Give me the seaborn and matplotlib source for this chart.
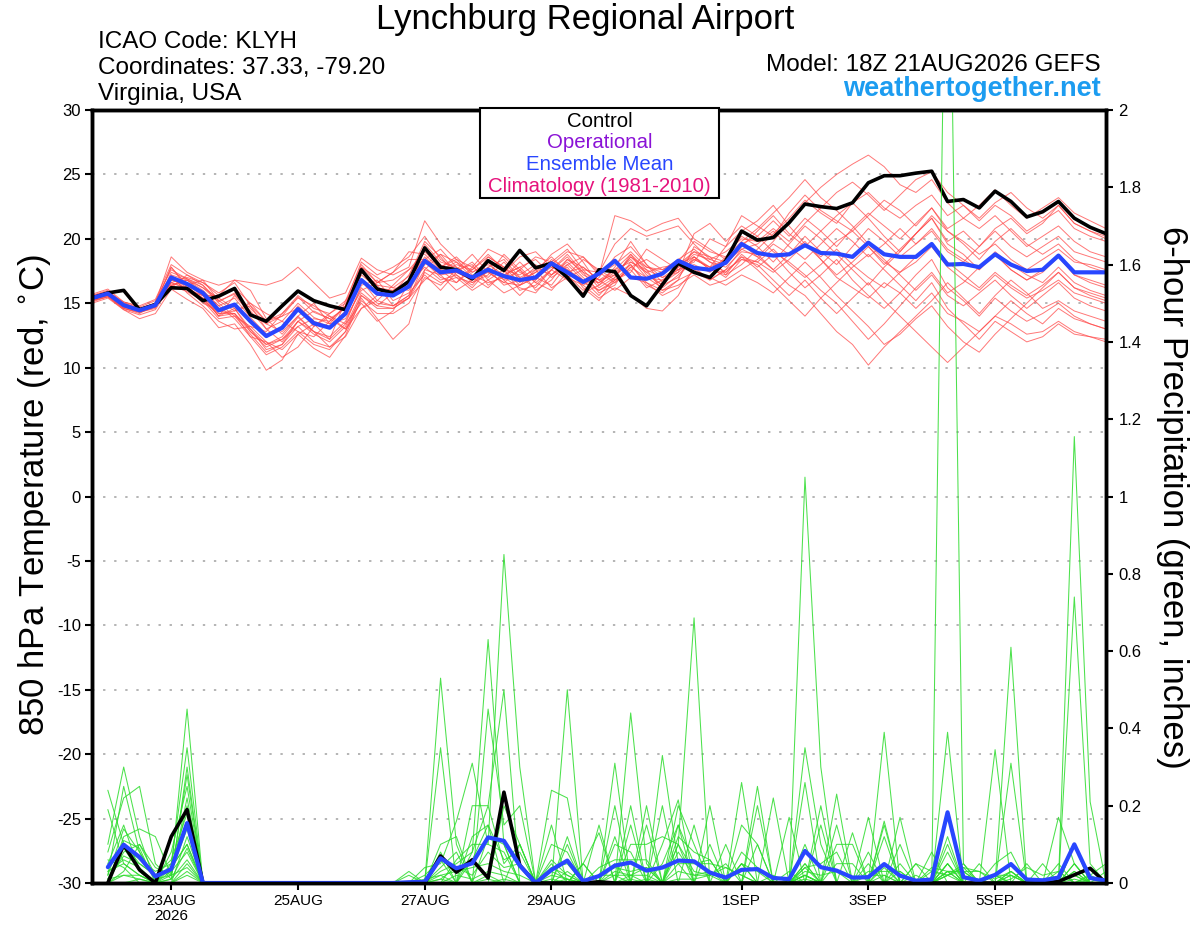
import matplotlib
matplotlib.use("Agg")
import numpy as np
import pandas as pd
import matplotlib.pyplot as plt
import seaborn as sns
from matplotlib.patches import Rectangle
from matplotlib.ticker import FuncFormatter, MultipleLocator

# ---------------- data ----------------
RUN_START = "2026-08-21 18:00"   # 18Z 21AUG2026 GEFS, 6-hourly
N_STEPS = 65                      # analysis + 64 six-hour steps
TICK_DATES = ["2026-08-23", "2026-08-25", "2026-08-27", "2026-08-29",
              "2026-09-01", "2026-09-03", "2026-09-05"]
TICK_LABELS = ["23AUG\n2026", "25AUG", "27AUG", "29AUG", "1SEP", "3SEP", "5SEP"]
TEMP_TICKS = [-30, -25, -20, -15, -10, -5, 0, 5, 10, 15, 20, 25, 30]

# 850 hPa temperature, control run (black)
CONTROL_T = [15.4, 15.8, 16.0, 14.5, 14.9, 16.2, 16.15, 15.2, 15.55, 16.15,
             14.1, 13.6, 14.8, 15.95, 15.2, 14.8, 14.5, 17.6, 16.1, 15.8,
             16.7, 19.3, 17.8, 17.6, 16.9, 18.3, 17.55, 19.1, 17.75, 18.1,
             17.0, 15.55, 17.6, 17.45, 15.6, 14.8, 16.45, 18.1, 17.4, 17.0,
             18.3, 20.6, 19.9, 20.1, 21.25, 22.7, 22.5, 22.35, 22.8, 24.35,
             24.9, 24.9, 25.1, 25.25, 22.9, 23.05, 22.4, 23.7, 22.9, 21.7,
             22.1, 22.9, 21.6, 20.9, 20.4]
# ensemble mean (blue)
MEAN_T = [15.4, 15.75, 14.85, 14.45, 14.85, 17.0, 16.5, 15.8, 14.45, 14.9,
          13.6, 12.45, 13.1, 14.55, 13.45, 13.1, 14.2, 16.8, 15.75, 15.6,
          16.3, 18.3, 17.4, 17.55, 17.0, 17.6, 17.1, 16.8, 17.0, 18.1,
          17.4, 16.65, 17.3, 18.3, 17.0, 16.9, 17.3, 18.3, 17.75, 17.6,
          18.15, 19.6, 18.9, 18.7, 18.8, 19.5, 18.9, 18.85, 18.6, 19.7,
          18.8, 18.6, 18.6, 19.6, 18.0, 18.05, 17.8, 18.8, 18.0, 17.5,
          17.6, 18.7, 17.4, 17.4, 17.4]

# ensemble members (red)
T01 = [15.6, 16.0, 14.9, 14.3, 14.7, 17.4, 16.9, 16.2, 15.1, 15.8, 14.6, 13.4, 14.0, 15.5, 14.3,
       13.8, 14.6, 17.5, 16.4, 16.2, 17.1,
       19.8, 18.6, 17.2, 16.4, 17.8, 18.4, 17.0, 16.2, 17.6, 18.8, 17.4, 15.8, 16.4, 18.2, 17.6,
       16.0, 16.8, 19.4, 18.6, 17.2, 18.0,
       19.2, 20.4, 21.6, 23.0, 22.0, 21.2, 22.8, 23.6, 22.4, 21.6, 22.6, 23.4, 21.8, 22.6, 21.4,
       22.6, 21.8, 20.6, 21.4, 22.2, 20.8, 20.2, 19.8]
T02 = [15.2, 15.5, 14.6, 14.2, 14.9, 16.6, 16.1, 15.6, 14.0, 14.6, 13.0, 11.8, 12.4, 13.9, 12.8,
       12.4, 13.6, 16.2, 15.0, 14.8, 15.6,
       17.6, 18.8, 18.2, 17.0, 16.2, 17.4, 18.6, 19.0, 17.8, 17.2, 18.4, 17.6, 16.8, 17.4, 19.2,
       18.4, 17.6, 18.2, 20.0, 19.4, 20.6,
       21.4, 22.6, 21.0, 19.6, 18.4, 17.0, 16.2, 15.4, 16.6, 15.8, 14.6, 15.8, 14.2, 13.6, 12.8,
       14.0, 13.4, 12.6, 12.8, 13.6, 12.8, 12.4, 12.2]
T03 = [15.0, 15.4, 14.5, 13.8, 14.2, 16.1, 15.3, 14.6, 13.1, 13.4, 11.8, 9.8, 10.6, 12.6, 11.5,
       10.8, 12.5, 15.4, 13.8, 12.2, 13.4,
       17.6, 17.2, 16.0, 16.8, 18.6, 17.8, 16.6, 17.4, 18.8, 19.6, 18.2, 16.4, 17.8, 19.8, 18.0,
       16.6, 17.4, 20.4, 21.2, 19.8, 21.0,
       20.2, 19.0, 18.2, 17.2, 16.0, 15.0, 13.6, 12.2, 13.4, 14.8, 16.2, 17.4, 15.8, 16.6, 17.8,
       18.8, 17.6, 16.8, 17.6, 18.6, 17.2, 16.6, 16.2]
T04 = [15.5, 15.9, 15.0, 14.6, 15.0, 18.6, 17.4, 16.8, 16.4, 16.8, 16.6, 16.4, 16.8, 17.8, 16.6,
       15.4, 15.8, 18.5, 17.6, 17.2, 17.8,
       21.4, 19.6, 18.4, 17.8, 19.2, 18.6, 17.4, 16.8, 18.0, 19.0, 18.6, 17.2, 21.8, 21.4, 20.6,
       21.2, 21.6, 20.0, 19.2, 18.4, 19.6,
       18.6, 19.8, 21.4, 22.8, 24.0, 25.0, 25.8, 26.5, 25.6, 24.2, 23.6, 24.6, 22.8, 21.6, 20.8,
       21.8, 20.6, 19.4, 20.2, 21.0, 19.8, 19.0, 18.6]
T05 = [15.3, 15.6, 14.7, 14.5, 14.8, 16.2, 17.2, 16.4, 15.0, 14.0, 13.2, 12.8, 14.2, 15.4, 14.8,
       14.0, 13.4, 16.4, 16.8, 15.2, 15.8,
       17.2, 16.0, 17.4, 18.2, 16.8, 15.8, 16.4, 17.6, 16.2, 17.0, 16.4, 15.4, 16.2, 15.6, 14.6,
       14.4, 15.6, 17.8, 16.8, 17.6, 19.2,
       18.6, 17.6, 16.4, 15.6, 14.2, 12.8, 11.8, 10.2, 11.6, 12.8, 14.0, 15.2, 16.6, 15.4, 14.2,
       15.6, 16.8, 15.8, 14.6, 15.2, 14.4, 14.0, 13.6]
T06 = [15.4, 15.8, 14.8, 14.4, 14.9, 17.8, 16.2, 15.4, 14.0, 15.6, 14.2, 13.4, 12.8, 14.0, 12.8,
       12.2, 15.2, 16.8, 15.2, 16.4, 17.6,
       18.4, 19.2, 17.8, 16.6, 17.2, 18.8, 17.6, 16.0, 16.8, 18.4, 17.8, 16.8, 17.2, 18.6, 17.8,
       17.4, 18.0, 18.6, 17.8, 19.4, 21.8,
       21.0, 20.2, 22.0, 23.4, 22.2, 21.4, 20.6, 21.8, 23.0, 22.2, 21.0, 22.4, 20.6, 19.8, 18.8,
       19.6, 18.4, 17.6, 18.4, 19.2, 18.2, 18.0, 17.6]
T07 = [15.6, 15.9, 15.1, 14.7, 15.2, 17.6, 16.9, 16.4, 15.2, 15.7, 14.4, 13.0, 13.6, 15.0, 13.9,
       13.4, 14.8, 17.8, 16.6, 16.8, 17.6,
       19.0, 17.8, 18.6, 17.4, 18.2, 16.8, 15.6, 16.8, 18.4, 17.6, 16.8, 15.6, 17.0, 18.8, 17.2,
       16.4, 17.8, 19.0, 18.2, 17.4, 18.6,
       17.6, 16.4, 15.2, 14.0, 15.4, 16.6, 17.8, 18.8, 17.6, 16.4, 15.2, 16.6, 14.6, 13.4, 12.2,
       13.6, 12.8, 12.0, 12.4, 13.4, 12.6, 12.4, 12.0]
T08 = [15.2, 15.6, 14.6, 14.3, 14.6, 16.8, 16.4, 15.6, 14.2, 14.2, 12.8, 11.6, 12.2, 13.6, 12.6,
       12.0, 13.2, 15.8, 14.8, 14.6, 15.4,
       18.2, 17.0, 16.6, 17.6, 18.8, 17.6, 17.2, 18.0, 17.0, 17.8, 16.2, 15.2, 16.8, 18.0, 16.6,
       16.0, 16.4, 17.2, 16.4, 16.8, 17.6,
       18.4, 19.6, 18.8, 20.2, 19.0, 18.0, 19.4, 20.8, 19.8, 18.6, 19.6, 20.8, 19.2, 18.4, 17.6,
       18.8, 17.6, 16.8, 17.4, 18.6, 17.2, 16.8, 16.4]
T09 = [15.4, 15.7, 14.9, 14.6, 14.8, 16.4, 16.8, 16.2, 15.4, 14.6, 12.8, 11.8, 12.2, 13.2, 13.8,
       13.6, 14.8, 17.4, 16.4, 14.8, 15.4,
       16.8, 17.8, 18.4, 17.2, 16.6, 17.0, 18.2, 17.0, 16.4, 18.0, 18.6, 17.4, 16.6, 17.8, 18.4,
       17.6, 18.2, 19.8, 19.0, 18.6, 20.2,
       19.4, 18.2, 19.6, 21.0, 20.0, 18.8, 17.6, 16.4, 17.8, 19.0, 20.4, 21.6, 19.6, 18.8, 17.6,
       19.0, 18.0, 17.2, 16.6, 17.8, 16.6, 16.0, 15.6]
T10 = [15.7, 16.1, 15.1, 14.8, 15.3, 18.0, 17.2, 16.6, 15.6, 16.2, 15.0, 13.6, 14.2, 15.6, 14.6,
       14.2, 15.0, 18.2, 17.2, 17.8, 18.6,
       20.2, 18.4, 17.6, 18.8, 17.4, 16.6, 17.6, 18.6, 18.2, 19.2, 17.6, 17.4, 19.6, 20.8, 20.2,
       20.6, 21.0, 19.6, 18.4, 18.0, 19.4,
       20.6, 21.8, 20.4, 19.4, 20.6, 21.8, 22.8, 21.6, 20.2, 19.0, 20.4, 21.6, 19.8, 20.6, 19.4,
       20.8, 21.6, 20.4, 21.2, 22.6, 21.2, 20.6, 20.2]
T11 = [15.3, 15.6, 14.7, 14.4, 14.7, 17.2, 15.8, 14.8, 13.6, 13.0, 13.2, 12.0, 11.4, 12.6, 13.4,
       12.2, 13.4, 15.0, 13.6, 14.4, 16.6,
       17.8, 16.8, 17.2, 16.2, 17.6, 17.0, 16.2, 15.8, 17.2, 18.0, 16.8, 16.6, 17.6, 18.2, 17.4,
       16.4, 17.0, 18.6, 17.6, 17.2, 18.8,
       17.8, 18.8, 17.4, 16.2, 17.2, 18.4, 16.8, 15.6, 14.6, 15.8, 17.2, 18.4, 16.2, 15.2, 14.0,
       15.4, 14.4, 13.6, 14.2, 15.0, 14.0, 13.4, 13.0]
T12 = [15.5, 15.8, 14.9, 14.5, 15.0, 17.2, 16.8, 16.0, 14.8, 15.4, 13.9, 12.6, 13.2, 14.8, 13.6,
       13.2, 14.4, 17.2, 16.2, 16.0, 16.8,
       18.6, 17.4, 18.0, 17.6, 18.6, 17.8, 17.0, 17.6, 18.6, 17.4, 16.4, 17.2, 18.0, 19.0, 17.8,
       17.6, 18.4, 19.2, 18.2, 17.8, 19.0,
       18.8, 17.6, 18.8, 19.8, 18.4, 17.2, 18.2, 19.4, 18.0, 19.2, 20.4, 21.8, 20.6, 19.6, 18.4,
       19.8, 20.8, 19.6, 18.8, 19.6, 18.4, 17.8, 17.4]
T13 = [15.4, 15.7, 14.8, 14.5, 14.9, 16.6, 17.0, 16.6, 15.8, 16.6, 14.8, 13.0, 12.0, 13.6, 14.4,
       13.8, 13.0, 15.6, 14.8, 15.8, 17.2,
       19.4, 18.0, 17.0, 16.6, 17.6, 16.4, 16.8, 17.8, 17.2, 18.2, 17.0, 16.0, 16.8, 17.6, 16.2,
       16.8, 17.6, 18.0, 17.4, 18.6, 19.8,
       20.8, 22.0, 23.2, 24.6, 23.2, 22.2, 21.0, 19.6, 18.4, 17.2, 16.0, 17.2, 15.6, 14.8, 15.8,
       16.8, 15.6, 14.6, 15.6, 16.6, 15.4, 14.8, 14.4]
T14 = [15.1, 15.5, 14.5, 14.1, 14.5, 16.4, 15.9, 15.2, 13.8, 14.0, 12.6, 11.2, 11.8, 13.2, 12.0,
       11.6, 12.8, 15.2, 14.2, 14.2, 15.0,
       17.0, 16.4, 17.6, 18.0, 16.4, 17.2, 17.8, 16.6, 16.0, 17.4, 17.8, 16.8, 16.0, 17.0, 16.6,
       15.6, 16.2, 17.6, 17.0, 16.4, 17.2,
       16.6, 15.8, 17.0, 18.2, 17.0, 15.6, 14.4, 13.2, 11.8, 12.6, 13.8, 14.8, 13.2, 12.0, 11.2,
       12.6, 13.8, 15.0, 16.2, 17.4, 16.2, 15.6, 15.2]
T15 = [15.5, 15.9, 15.0, 14.6, 15.0, 17.8, 16.4, 15.2, 14.2, 14.4, 15.0, 14.2, 13.6, 12.8, 12.4,
       13.6, 14.8, 17.8, 17.0, 16.2, 16.0,
       18.0, 18.8, 17.4, 16.8, 18.4, 17.6, 16.4, 17.0, 18.2, 17.2, 16.0, 17.0, 18.6, 19.4, 18.0,
       17.0, 17.8, 18.8, 18.4, 19.0, 20.0,
       19.8, 20.8, 19.8, 21.2, 22.4, 23.6, 24.4, 23.4, 22.2, 23.4, 24.6, 25.2, 23.6, 22.6, 21.6,
       22.8, 23.6, 22.4, 21.6, 22.6, 21.2, 20.6, 20.0]
T16 = [15.3, 15.6, 14.7, 14.4, 14.8, 16.4, 16.8, 15.8, 14.8, 13.8, 12.4, 12.0, 10.8, 11.6, 13.2,
       14.0, 13.0, 14.6, 15.2, 14.8, 15.6,
       19.6, 18.2, 17.8, 17.0, 17.8, 16.8, 17.6, 16.6, 17.6, 18.6, 17.2, 16.6, 17.4, 18.4, 17.0,
       16.2, 17.2, 18.4, 17.8, 17.0, 18.4,
       18.2, 17.4, 18.4, 19.6, 18.6, 19.8, 20.6, 19.4, 18.2, 17.4, 18.2, 19.4, 17.8, 16.8, 16.0,
       17.2, 16.2, 15.4, 16.0, 16.8, 15.8, 15.4, 15.0]
T17 = [15.4, 15.8, 14.9, 14.5, 14.9, 17.0, 16.0, 15.6, 15.6, 16.8, 16.0, 13.8, 12.6, 14.0, 15.0,
       13.4, 13.8, 16.0, 16.6, 17.4, 18.4,
       18.4, 17.6, 16.6, 17.8, 17.0, 18.2, 16.8, 17.4, 18.0, 17.0, 17.6, 16.2, 17.0, 18.6, 17.4,
       17.8, 18.0, 19.0, 18.6, 18.2, 19.2,
       19.6, 20.6, 19.4, 18.4, 19.6, 20.8, 19.8, 18.6, 19.6, 20.8, 19.6, 20.6, 19.0, 18.2, 19.4,
       20.6, 19.4, 18.6, 19.4, 20.2, 19.0, 18.6, 18.2]
T18 = [15.2, 15.5, 14.6, 14.3, 14.7, 16.6, 16.2, 15.4, 14.0, 14.2, 12.4, 11.0, 11.6, 12.8, 11.8,
       11.4, 12.8, 15.6, 14.6, 14.6, 15.4,
       17.4, 16.6, 17.0, 16.0, 16.8, 17.6, 16.0, 16.4, 17.6, 16.8, 15.8, 16.4, 17.2, 18.0, 16.4,
       15.8, 16.8, 17.4, 16.8, 17.6, 18.4,
       18.0, 16.8, 15.6, 16.8, 15.4, 14.2, 15.4, 16.6, 15.2, 14.0, 12.8, 11.6, 10.4, 11.6, 12.8,
       14.0, 15.2, 14.2, 13.4, 14.6, 13.8, 13.4, 13.0]
T19 = [15.5, 15.8, 14.9, 14.5, 14.9, 16.8, 16.4, 16.8, 15.2, 14.4, 14.8, 13.6, 14.0, 14.6, 13.2,
       14.2, 15.2, 18.0, 16.6, 17.4, 19.0,
       18.8, 17.6, 18.2, 17.4, 18.0, 17.2, 17.8, 18.4, 17.2, 18.4, 17.4, 16.8, 17.6, 18.8, 17.6,
       17.0, 17.4, 18.4, 17.8, 18.4, 19.6,
       20.2, 21.4, 20.2, 21.6, 20.6, 19.4, 20.8, 22.0, 21.0, 20.0, 21.2, 22.4, 20.8, 21.6, 22.6,
       23.8, 22.6, 21.6, 22.4, 23.2, 22.0, 21.4, 20.8]
T20 = [15.4, 15.7, 14.8, 14.4, 14.8, 17.0, 16.2, 15.0, 14.4, 14.2, 13.0, 11.4, 11.8, 13.6, 12.8,
       11.6, 12.4, 14.6, 15.6, 16.0, 16.4,
       18.2, 17.2, 17.4, 16.8, 17.4, 16.6, 16.4, 17.0, 17.8, 17.6, 16.6, 16.0, 16.6, 17.8, 17.0,
       16.8, 17.6, 18.6, 17.6, 17.4, 18.6,
       18.2, 19.2, 18.0, 17.0, 18.0, 19.2, 18.0, 17.0, 16.2, 17.4, 18.6, 19.6, 18.2, 17.2, 16.2,
       17.4, 16.4, 15.6, 16.4, 17.4, 16.2, 15.8, 15.4]
TEMP_MEMBERS = [T01, T02, T03, T04, T05, T06, T07, T08, T09, T10,
                T11, T12, T13, T14, T15, T16, T17, T18, T19, T20]

# 6-hour precipitation (inches), valid at steps 1..64
CONTROL_P = [0.0, 0.099, 0.034, 0.0, 0.12, 0.19, 0.0, 0.0, 0.0, 0.0,
             0.0, 0.0, 0.0, 0.0, 0.0, 0.0, 0.0, 0.0, 0.0, 0.0,
             0.0, 0.07, 0.028, 0.06, 0.013, 0.235, 0.046, 0.0, 0.0, 0.0,
             0.0, 0.003, 0.0, 0.0, 0.0, 0.0, 0.0, 0.0, 0.0, 0.0,
             0.0, 0.0, 0.0, 0.0, 0.0, 0.0, 0.0, 0.0, 0.0, 0.0,
             0.0, 0.0, 0.0, 0.0, 0.0, 0.0, 0.0, 0.0, 0.0, 0.0,
             0.004, 0.021, 0.038, 0.0]
MEAN_P = [0.041, 0.099, 0.067, 0.017, 0.036, 0.155, 0.0, 0.0, 0.0, 0.0,
          0.0, 0.0, 0.0, 0.0, 0.0, 0.0, 0.0, 0.0, 0.0, 0.002,
          0.003, 0.064, 0.038, 0.051, 0.118, 0.109, 0.045, 0.0, 0.034, 0.058,
          0.005, 0.018, 0.045, 0.053, 0.032, 0.04, 0.058, 0.056, 0.027, 0.014,
          0.034, 0.036, 0.013, 0.010, 0.083, 0.041, 0.032, 0.014, 0.015, 0.049,
          0.019, 0.006, 0.009, 0.183, 0.015, 0.006, 0.021, 0.049, 0.009, 0.007,
          0.014, 0.1, 0.013, 0.006]

# members: {forecast step: inches}; steps not listed had no precipitation
P01 = {1: .24, 2: .10, 3: .05, 4: .02, 5: .03, 6: .45, 22: .53, 23: .10, 26: .20, 27: .10, 30: .12,
       33: .05, 36: .33, 37: .05, 41: .05, 45: .35, 46: .10, 50: .05, 54: .39, 57: .05, 58: .08,
       62: .74, 63: .05}
P02 = {1: .10, 2: .30, 3: .12, 5: .05, 6: .35, 22: .35, 24: .08, 25: .63, 26: .10, 29: .05, 32: .15,
       34: .44, 35: .05, 38: .15, 42: .25, 45: .10, 47: .23, 50: .16, 54: .05, 58: .31, 62: .10}
P03 = {1: .02, 2: .25, 3: .08, 4: .01, 5: .02, 6: .20, 21: .04, 22: .05, 23: .16, 24: .31, 25: .10,
       26: .85, 27: .30, 30: .10, 33: .31, 37: .10, 38: .686, 41: .05, 45: .05, 49: .05, 54: .12,
       57: .345, 62: .05}
P04 = {1: .08, 2: .22, 3: .25, 4: .05, 5: .01, 6: .30, 20: .03, 22: .08, 24: .20, 25: .20, 26: .50,
       29: .24, 30: .22, 34: .20, 36: .10, 37: .215, 41: .26, 45: 1.05, 46: .30, 50: .39, 54: .08,
       58: .61, 62: 1.155, 63: .21}
P05 = {2: .12, 3: .14, 4: .12, 5: .02, 6: .28, 22: .10, 23: .12, 25: .45, 26: .15, 27: .20, 30: .50,
       33: .12, 35: .20, 37: .15, 43: .22, 46: .20, 49: .17, 51: .17, 54: 2.9, 55: .05, 61: .17,
       62: .05}
P06 = {1: .05, 2: .15, 3: .03, 5: .08, 6: .25, 21: .02, 22: .06, 24: .12, 25: .15, 27: .10, 29: .15,
       31: .05, 32: .13, 34: .15, 36: .20, 39: .20, 42: .20, 44: .17, 47: .15, 50: .15, 53: .08,
       56: .05, 58: .03, 62: .10}
P07 = {1: .19, 2: .05, 3: .02, 5: .04, 6: .10, 22: .04, 23: .08, 25: .12, 26: .10, 29: .10, 30: .08,
       33: .20, 35: .15, 37: .20, 38: .10, 40: .10, 42: .10, 45: .26, 48: .13, 50: .12, 52: .05,
       54: .10, 57: .02, 59: .05, 62: .05}
P08 = {2: .08, 3: .10, 4: .02, 5: .06, 6: .18, 20: .02, 23: .06, 24: .10, 25: .10, 26: .08, 29: .04,
       30: .05, 34: .10, 35: .10, 36: .12, 37: .10, 39: .10, 41: .15, 42: .10, 46: .15, 49: .08,
       51: .10, 54: .05, 58: .03, 60: .05, 62: .02}
P09 = {1: .06, 2: .04, 6: .12, 22: .03, 23: .05, 24: .08, 25: .20, 26: .05, 27: .10, 30: .03,
       33: .10, 34: .08, 36: .05, 37: .15, 38: .05, 39: .06, 41: .08, 42: .04, 45: .05, 47: .10,
       48: .10, 50: .04, 53: .04, 54: .03, 58: .02}
P10 = {1: .01, 2: .10, 3: .06, 4: .03, 5: .05, 6: .15, 21: .01, 22: .02, 24: .06, 25: .15, 26: .06,
       27: .08, 29: .06, 30: .02, 32: .04, 33: .06, 34: .06, 35: .06, 37: .12, 38: .08, 39: .06,
       41: .05, 42: .03, 45: .04, 46: .05, 47: .08, 49: .03, 50: .03, 51: .03, 54: .03, 55: .03,
       58: .02, 63: .01}
P11 = {1: .03, 2: .06, 3: .04, 5: .03, 6: .08, 22: .01, 23: .04, 24: .02, 25: .08, 26: .04, 27: .05,
       29: .04, 30: .02, 32: .02, 33: .04, 34: .03, 35: .04, 37: .05, 38: .05, 39: .05, 40: .04,
       41: .02, 45: .03, 46: .02, 47: .03, 49: .02, 50: .02, 52: .02, 54: .02, 55: .04, 56: .03,
       57: .01, 58: .03, 61: .03, 64: .03}
P12 = {2: .03, 3: .10, 4: .04, 5: .02, 6: .22, 22: .02, 23: .03, 24: .04, 25: .05, 26: .03, 27: .02,
       29: .03, 30: .01, 33: .03, 34: .02, 37: .10, 38: .03, 39: .02, 40: .05, 45: .02, 47: .05,
       48: .05, 50: .02, 52: .05, 53: .03, 54: .02, 55: .04, 57: .02, 58: .02, 61: .05, 63: .02,
       64: .05}
P13 = {1: .04, 2: .09, 3: .03, 6: .05, 23: .02, 24: .01, 25: .03, 26: .02, 29: .02, 30: .01,
       32: .02, 33: .02, 34: .02, 35: .04, 37: .08, 38: .02, 39: .02, 40: .04, 41: .02, 45: .01,
       51: .05, 53: .03, 54: .02, 55: .03, 56: .03, 58: .01, 59: .04, 60: .02, 61: .03, 63: .02}
P14 = {1: .02, 2: .14, 3: .08, 4: .01, 5: .04, 6: .10, 22: .01, 25: .02, 31: .05, 34: .02, 35: .02,
       37: .03, 38: .02, 39: .03, 45: .04, 51: .03, 54: .02, 55: .05}
P15 = {2: .02, 3: .01, 5: .01, 6: .06, 31: .05, 37: .01, 38: .01, 39: .02, 45: .02, 54: .03,
       55: .03, 62: .03}
P16 = {1: .01, 2: .07, 3: .05, 4: .02, 5: .03, 6: .14, 26: .01, 29: .01, 33: .02, 44: .03, 54: .05,
       62: .02}
P17 = {2: .11, 3: .09, 5: .02, 6: .04, 25: .01, 30: .01, 34: .01, 43: .02, 45: .02, 57: .02, 62: .03}
P18 = {1: .03, 2: .05, 3: .02, 5: .01, 6: .09, 35: .01, 45: .02, 54: .03, 62: .01}
P19 = {3: .01, 6: .02, 45: .02, 54: .02}
P20 = {1: .01, 2: .02, 3: .02, 6: .03}
PRECIP_MEMBERS = [P01, P02, P03, P04, P05, P06, P07, P08, P09, P10,
                  P11, P12, P13, P14, P15, P16, P17, P18, P19, P20]

# ---------------- colours / style ----------------
RED = "#ff4a4a"
GREEN = "#2ddc2d"
BLUE = "#2846ff"
PURPLE = "#8a12d6"
MAGENTA = "#e6127c"
LINK = "#1c9cf0"

assert len(CONTROL_T) == N_STEPS and len(MEAN_T) == N_STEPS
assert all(len(m) == N_STEPS for m in TEMP_MEMBERS)
assert len(CONTROL_P) == N_STEPS - 1 and len(MEAN_P) == N_STEPS - 1

times = pd.date_range(RUN_START, periods=N_STEPS, freq="6h")

# long-form tables
temp_df = pd.concat(
    [pd.DataFrame({"time": times, "temp": m, "member": f"m{k:02d}"})
     for k, m in enumerate(TEMP_MEMBERS)], ignore_index=True)
prec_rows = []
for k, m in enumerate(PRECIP_MEMBERS):
    vals = [m.get(step, 0.0) for step in range(1, N_STEPS)]
    prec_rows.append(pd.DataFrame({"time": times[1:], "precip": vals,
                                   "member": f"m{k:02d}"}))
prec_df = pd.concat(prec_rows, ignore_index=True)
ctl_t = pd.DataFrame({"time": times, "temp": CONTROL_T})
mean_t = pd.DataFrame({"time": times, "temp": MEAN_T})
ctl_p = pd.DataFrame({"time": times[1:], "precip": CONTROL_P})
mean_p = pd.DataFrame({"time": times[1:], "precip": MEAN_P})

sns.set_style("white")
plt.rcParams["font.family"] = ["Liberation Sans", "DejaVu Sans"]
plt.rcParams["text.color"] = "black"
plt.rcParams["axes.labelcolor"] = "black"
plt.rcParams["xtick.color"] = "black"
plt.rcParams["ytick.color"] = "black"

W, H = 1200, 927
fig = plt.figure(figsize=(W / 100, H / 100), dpi=100)
L, R, T, B = 92, 1106, 110, 883
ax = fig.add_axes([L / W, 1 - B / H, (R - L) / W, (B - T) / H])

sns.lineplot(data=temp_df, x="time", y="temp", hue="member",
             palette=[RED] * len(TEMP_MEMBERS), estimator=None,
             linewidth=0.7, alpha=0.75, legend=False, ax=ax)
sns.lineplot(data=ctl_t, x="time", y="temp", color="black", linewidth=2.6, ax=ax)
sns.lineplot(data=mean_t, x="time", y="temp", color=BLUE, linewidth=3.0, ax=ax)

ax2 = ax.twinx()
sns.lineplot(data=prec_df, x="time", y="precip", hue="member",
             palette=[GREEN] * len(PRECIP_MEMBERS), estimator=None,
             linewidth=0.75, alpha=0.85, legend=False, ax=ax2)
sns.lineplot(data=ctl_p, x="time", y="precip", color="black", linewidth=2.6, ax=ax2)
sns.lineplot(data=mean_p, x="time", y="precip", color=BLUE, linewidth=3.0, ax=ax2)

ax.set_xlim(times[0], times[-1])
ax.set_ylim(-30, 30)
ax2.set_ylim(0, 2)
ax.set_yticks(TEMP_TICKS)
ax.set_yticklabels([str(v) for v in TEMP_TICKS])
ax2.yaxis.set_major_locator(MultipleLocator(0.2))
ax2.yaxis.set_major_formatter(FuncFormatter(lambda v, p: f"{v:g}"))
ax.set_xticks(pd.to_datetime(TICK_DATES))
ax.set_xticklabels(TICK_LABELS, linespacing=1.1)
for a in (ax, ax2):
    a.set_xlabel("")
    a.set_ylabel("")
    for sp in a.spines.values():
        sp.set_visible(True)
        sp.set_linewidth(2.5)
        sp.set_color("black")

ax.set_axisbelow(True)
ax.yaxis.grid(True, color="#b4b4b4", linestyle=(0, (1.2, 4.5)), linewidth=1.4)
ax.xaxis.grid(False)
ax.tick_params(axis="y", left=True, labelsize=12, length=5, width=1.5, pad=3)
ax.tick_params(axis="x", bottom=True, labelsize=11, length=5, width=1.5, pad=3)
ax2.tick_params(axis="y", right=True, labelsize=12, length=5, width=1.5, pad=4)

# titles and annotations
fig.text(585 / W, 1 - 29 / H, "Lynchburg Regional Airport", ha="center",
         va="baseline", fontsize=25)
fig.text(98 / W, 1 - 48 / H, "ICAO Code: KLYH", ha="left", va="baseline", fontsize=17.5)
fig.text(98 / W, 1 - 74 / H, "Coordinates: 37.33, -79.20", ha="left", va="baseline",
         fontsize=17.5)
fig.text(98 / W, 1 - 100 / H, "Virginia, USA", ha="left", va="baseline", fontsize=17.5)
fig.text(1101 / W, 1 - 71 / H, "Model: 18Z 21AUG2026 GEFS", ha="right",
         va="baseline", fontsize=17.5)
fig.text(1101 / W, 1 - 96 / H, "weathertogether.net", ha="right", va="baseline",
         fontsize=19.5, fontweight="bold", color=LINK)

fig.text(35 / W, 1 - 495 / H, "850 hPa Temperature (red, $^{\\circ}$C)",
         rotation=90, ha="center", va="center", fontsize=25)
fig.text(1172 / W, 1 - 497 / H, "6-hour Precipitation (green, inches)",
         rotation=-90, ha="center", va="center", fontsize=25)

# legend box
box = Rectangle((480 / W, 1 - 198 / H), 239 / W, 90 / H, transform=fig.transFigure,
                facecolor="white", edgecolor="black", linewidth=1.5, zorder=5)
fig.add_artist(box)
for txt, col, yb in [("Control", "black", 127), ("Operational", PURPLE, 148.5),
                     ("Ensemble Mean", BLUE, 170), ("Climatology (1981-2010)", MAGENTA, 192.5)]:
    fig.text(599.5 / W, 1 - yb / H, txt, ha="center", va="baseline", fontsize=14.7,
             color=col, zorder=6)

fig.savefig("out.png", dpi=100)
